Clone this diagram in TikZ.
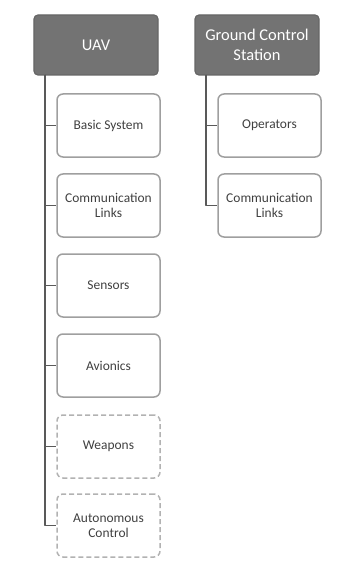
\documentclass[tikz,border=0pt]{standalone}
\usepackage{fontspec}
\setmainfont{Carlito}
\begin{document}
\begin{tikzpicture}[x=1bp, y=-1bp, line join=round]
			\tikzset{
				head/.style={draw=gray!80!black, fill=gray!90!black, rounded corners=4bp, line width=1.2bp,
						minimum width=124bp, minimum height=60bp, text=white, align=center,
						font=\fontsize{16.5}{20}\selectfont, inner sep=1bp},
				part/.style={draw=gray!75, fill=white, rounded corners=6bp, line width=1.5bp,
						minimum width=103bp, minimum height=63bp, text=black!75, align=center,
						font=\fontsize{13.5}{15}\selectfont, inner sep=1bp},
				maybe/.style={part, draw=gray!60, dashed, dash pattern=on 5bp off 3bp},
				tree/.style={draw=black!65, line width=1.3bp},
			}
			\useasboundingbox (0,0) rectangle (348,573);
			\node[head] (uav) at (96,45) {UAV};
			\node[head] (gcs) at (257,45) {Ground Control\\Station};
			\coordinate (uavtrunk) at (45,75);
			\coordinate (gcstrunk) at (206,75);
			\foreach \name/\txt/\y/\sty in {basic/Basic System/125.5/part,
					links/Communication\\Links/205.5/part,
					sensors/Sensors/285.5/part,
					avionics/Avionics/365.5/part,
					weapons/Weapons/446.5/maybe,
					auto/Autonomous\\Control/525.5/maybe}
				{
					\node[\sty] (\name) at (108.5,\y) {\txt};
					\draw[tree] (uavtrunk) |- (\name.west);
				}
			\foreach \name/\txt/\y in {operators/Operators/125.5,
					gcslinks/Communication\\Links/205.5}
				{
					\node[part] (\name) at (269.5,\y) {\txt};
					\draw[tree] (gcstrunk) |- (\name.west);
				}
		\end{tikzpicture}
\end{document}
